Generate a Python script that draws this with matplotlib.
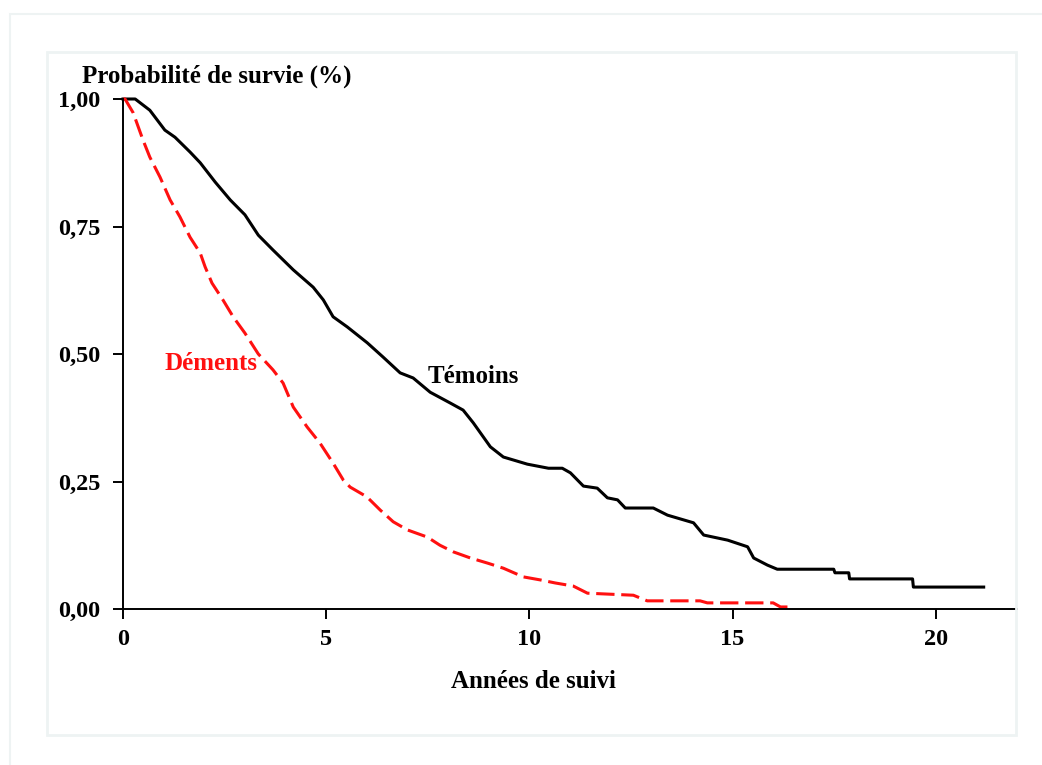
import matplotlib.pyplot as plt
from matplotlib.patches import Rectangle

plt.rcParams['font.family'] = ['Liberation Serif', 'DejaVu Serif']
plt.rcParams['font.weight'] = 'bold'

# Témoins (controls) - survival curve
t_temoins = [0, 0.3, 0.66, 1.03, 1.28, 1.65, 1.9, 2.27, 2.64, 3.0, 3.33, 3.69,
             4.19, 4.68, 4.93, 5.17, 5.52, 6.01, 6.4, 6.82, 7.14, 7.56, 8.05,
             8.37, 8.62, 8.87, 9.04, 9.36, 9.95, 10.47, 10.81, 11.01, 11.33,
             11.67, 11.92, 12.17, 12.36, 13.05, 13.4, 14.04, 14.29, 14.88,
             15.37, 15.52, 15.86, 16.1, 17.49, 17.52, 17.86, 17.88, 19.43,
             19.45, 21.18]
s_temoins = [1.0, 1.0, 0.978, 0.939, 0.925, 0.896, 0.875, 0.837, 0.802, 0.773,
             0.733, 0.704, 0.665, 0.631, 0.606, 0.573, 0.553, 0.522, 0.494,
             0.463, 0.453, 0.425, 0.404, 0.39, 0.365, 0.337, 0.318, 0.298,
             0.284, 0.276, 0.276, 0.267, 0.241, 0.237, 0.218, 0.214, 0.198,
             0.198, 0.184, 0.169, 0.145, 0.135, 0.122, 0.1, 0.086, 0.078,
             0.078, 0.071, 0.071, 0.059, 0.059, 0.043, 0.043]

# Déments (demented)
t_dements = [0, 0.05, 0.25, 0.49, 0.66, 0.91, 1.16, 1.4, 1.65, 1.9, 2.02, 2.19,
             2.46, 2.71, 3.0, 3.33, 3.69, 3.94, 4.19, 4.53, 4.85, 5.17, 5.42,
             5.59, 6.0, 6.33, 6.65, 7.0, 7.49, 7.8, 8.13, 8.55, 8.97, 9.36,
             9.85, 10.27, 10.64, 11.08, 11.43, 12.56, 12.9, 14.2, 14.38, 16.0,
             16.18, 16.43]
s_dements = [1.0, 1.0, 0.973, 0.92, 0.886, 0.847, 0.802, 0.769, 0.729, 0.698,
             0.671, 0.639, 0.606, 0.573, 0.541, 0.5, 0.469, 0.443, 0.396,
             0.357, 0.325, 0.286, 0.253, 0.239, 0.22, 0.194, 0.171, 0.155,
             0.141, 0.125, 0.112, 0.1, 0.09, 0.08, 0.063, 0.057, 0.051, 0.045,
             0.031, 0.027, 0.016, 0.016, 0.012, 0.012, 0.004, 0.004]

x_ticks = [0, 5, 10, 15, 20]
y_ticks = [0.0, 0.25, 0.5, 0.75, 1.0]
y_labels = ['0,00', '0,25', '0,50', '0,75', '1,00']

fig = plt.figure(figsize=(10.42, 7.65), dpi=100)

# faint frames of the original scan
fig.patches.append(Rectangle((10 / 1042, -0.1), 1.2, (765 - 14) / 765 + 0.1,
                             transform=fig.transFigure, fill=False,
                             edgecolor='#eef3f3', lw=1.5))
fig.patches.append(Rectangle((47 / 1042, (765 - 735) / 765), (1016 - 47) / 1042,
                             (735 - 52) / 765, transform=fig.transFigure,
                             fill=False, edgecolor='#eef3f3', lw=2))

ax = fig.add_axes([123 / 1042, 156 / 765, (1017 - 123) / 1042, (609 - 99) / 765])
ax.plot(t_temoins, s_temoins, color='black', lw=2.2, clip_on=False)
ax.plot(t_dements, s_dements, color='#ff1010', lw=2.2, dashes=(6, 2.2),
        clip_on=False)

ax.set_xlim(0, 22)
ax.set_ylim(0, 1.0)
ax.spines['top'].set_visible(False)
ax.spines['right'].set_visible(False)
for sp in ['left', 'bottom']:
    ax.spines[sp].set_linewidth(1.4)
ax.set_xticks(x_ticks)
ax.set_yticks(y_ticks)
ax.set_yticklabels(y_labels)
ax.tick_params(direction='out', length=7.5, width=1.4, labelsize=17.5, pad=7)
ax.tick_params(axis='y', pad=9)

fig.text(82 / 1042, 1 - 76 / 765, 'Probabilité de survie (%)', fontsize=18,
         fontweight='bold', ha='left', va='center')
fig.text(533 / 1042, 1 - 682 / 765, 'Années de suivi', fontsize=18,
         fontweight='bold', ha='center', va='center')
ax.text(3.3, 0.482, 'Déments', color='#ff1010', fontsize=18, fontweight='bold',
        ha='right', va='center')
ax.text(7.5, 0.455, 'Témoins', color='black', fontsize=18, fontweight='bold',
        ha='left', va='center')

fig.savefig('out.png', dpi=100)
